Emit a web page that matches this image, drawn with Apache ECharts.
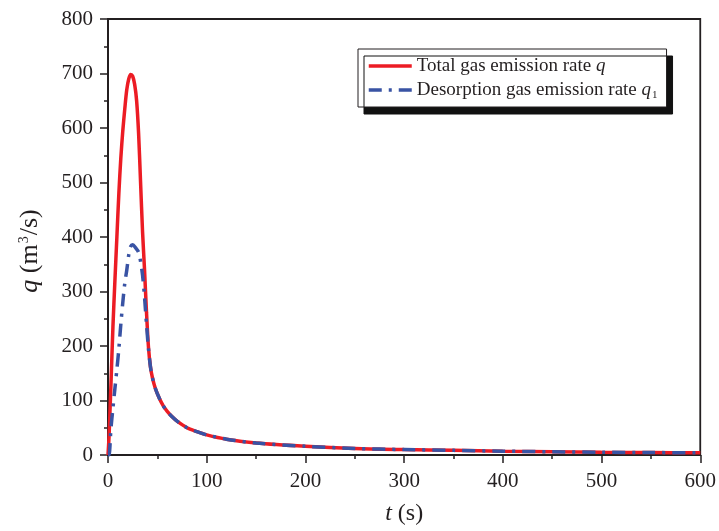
<!DOCTYPE html>
<html>
<head>
<meta charset="utf-8">
<script src="https://cdn.jsdelivr.net/npm/echarts@6/dist/echarts.min.js"></script>
<style>
  html, body { margin: 0; padding: 0; background: #fff; }
  #chart { width: 719px; height: 531px; }
</style>
</head>
<body>
<div id="chart"></div>
<script>
// time (s) and total emission rate q (m3/s)
var totalT = [0, 1, 2, 3, 5, 7, 9, 11, 13, 15, 17, 19, 21, 23, 25, 27, 29, 31, 33, 35, 37, 39, 41, 43, 45, 48, 52, 56, 60, 65, 70, 80, 90, 100, 120, 150, 200, 250, 300, 350, 400, 450, 500, 550, 600];
var totalQ = [0, 32, 80, 130, 235, 320, 400, 480, 545, 595, 635, 670, 690, 698, 695, 680, 650, 590, 500, 410, 340, 262, 198, 162, 142, 122, 104, 90, 80, 70, 62, 50, 43, 37, 29, 22, 16, 12, 10, 8.5, 7, 6, 5, 4.5, 4];

// desorption emission rate q1
var desorbT = [0, 1, 3, 5, 7, 9, 11, 13, 15, 17, 19, 21, 23, 25, 28, 31, 33, 35, 37, 39, 41, 43, 45, 48, 52, 56, 60, 65, 70, 80, 90, 100, 120, 150, 200, 250, 300, 350, 400, 450, 500, 550, 600];
var desorbQ = [0, 0, 49, 86, 122, 157, 195, 240, 280, 315, 339, 367, 383, 386, 380, 372, 355, 330, 290, 240, 195, 162, 142, 122, 104, 90, 80, 70, 62, 50, 43, 37, 29, 22, 16, 12, 10, 8.5, 7, 6, 5, 4.5, 4];

function pairs(xs, ys) {
    return xs.map(function (x, i) { return [x, ys[i]]; });
}

var chart = echarts.init(document.getElementById('chart'));
var font = 'Liberation Serif';
var ink = '#231f20';

var option = {
    animation: false,
    textStyle: { fontFamily: font },
    grid: {
        left: 108, right: 17, top: 19, bottom: 76,
        show: true, borderColor: ink, borderWidth: 1.8
    },
    legend: {
        orient: 'vertical',
        left: 358, top: 49,
        padding: [6, 9, 6, 9],
        itemGap: 2,
        itemWidth: 43, itemHeight: 14,
        backgroundColor: '#fff',
        borderColor: ink, borderWidth: 1,
        shadowColor: '#111', shadowBlur: 0, shadowOffsetX: 6, shadowOffsetY: 7,
        itemStyle: { opacity: 0, borderWidth: 0 },
        lineStyle: { width: 3.5 },
        textStyle: {
            fontFamily: font, fontSize: 19, lineHeight: 22, color: ink,
            rich: {
                i: { fontFamily: font, fontSize: 19, lineHeight: 22, fontStyle: 'italic', color: ink },
                s: { fontFamily: font, fontSize: 11, lineHeight: 22, color: ink, verticalAlign: 'bottom', padding: [9, 0, 0, 1] }
            }
        },
        formatter: function (name) {
            if (name === 'total') return 'Total gas emission rate {i|q}';
            return 'Desorption gas emission rate {i|q}{s|1}';
        },
        data: ['total', 'desorb']
    },
    xAxis: {
        type: 'value', min: 0, max: 600, interval: 100,
        name: '{i|t} (s)', nameLocation: 'middle', nameGap: 47,
        nameTextStyle: {
            fontFamily: font, fontSize: 24, color: ink,
            rich: { i: { fontFamily: font, fontSize: 24, fontStyle: 'italic', color: ink } }
        },
        axisLine: { onZero: false, lineStyle: { color: ink, width: 1.8 } },
        axisTick: { length: 8, lineStyle: { color: ink, width: 1.5 } },
        minorTick: { show: true, splitNumber: 2, length: 4, lineStyle: { color: ink, width: 1.5 } },
        axisLabel: { fontFamily: font, fontSize: 21, color: ink, margin: 16 },
        splitLine: { show: false }
    },
    yAxis: {
        type: 'value', min: 0, max: 800, interval: 100,
        name: '{i|q} (m{sup|3}/s)', nameLocation: 'middle', nameGap: 65, nameRotate: 90,
        nameTextStyle: {
            fontFamily: font, fontSize: 26, color: ink, padding: [0, 28, 0, 0],
            rich: {
                i: { fontFamily: font, fontSize: 26, fontStyle: 'italic', color: ink },
                sup: { fontFamily: font, fontSize: 14, color: ink, verticalAlign: 'top', padding: [0, 1, 12, 1] }
            }
        },
        axisLine: { onZero: false, lineStyle: { color: ink, width: 1.8 } },
        axisTick: { length: 8, lineStyle: { color: ink, width: 1.5 } },
        minorTick: { show: true, splitNumber: 2, length: 4, lineStyle: { color: ink, width: 1.5 } },
        axisLabel: { fontFamily: font, fontSize: 21, color: ink, margin: 15 },
        splitLine: { show: false }
    },
    series: [{
        name: 'total',
        type: 'line',
        symbol: 'none',
        smooth: 0.3,
        data: pairs(totalT, totalQ),
        itemStyle: { color: '#ec1c24' },
        lineStyle: { color: '#ec1c24', width: 3.5 }
    }, {
        name: 'desorb',
        type: 'line',
        symbol: 'none',
        smooth: 0.3,
        data: pairs(desorbT, desorbQ),
        itemStyle: { color: '#3953a4' },
        lineStyle: { color: '#3953a4', width: 3.5, type: [13, 7, 3, 7] }
    }]
};
chart.setOption(option);
</script>
</body>
</html>
